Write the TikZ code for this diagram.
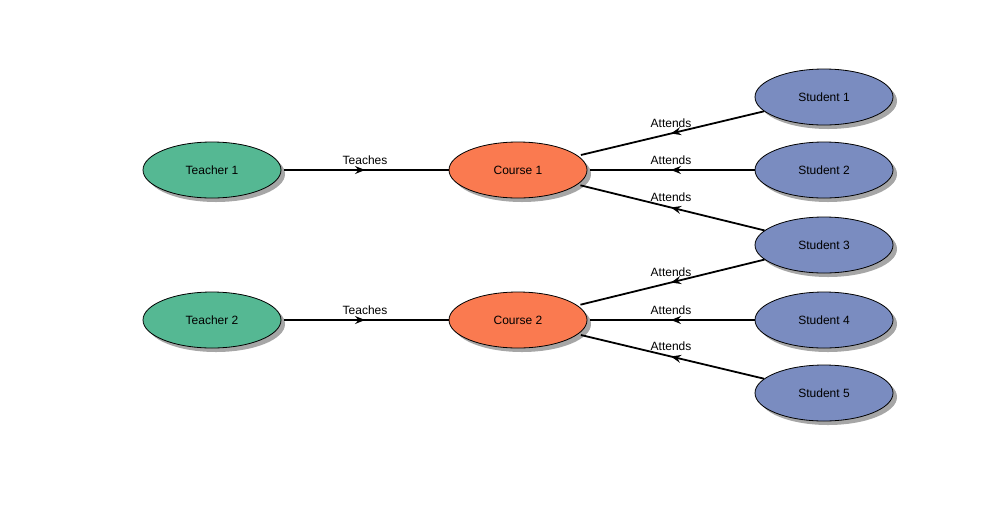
\documentclass[tikz,border=0pt]{standalone}
\usepackage{fontspec}
\setmainfont{Liberation Sans}
\usetikzlibrary{shapes.geometric,shadows,decorations.markings,arrows.meta}
\definecolor{tgreen}{HTML}{55B893}
\definecolor{corange}{HTML}{FA7A50}
\definecolor{sblue}{HTML}{7A8CC0}
\begin{document}
\begin{tikzpicture}[x=1pt,y=-1pt,
  ent/.style={ellipse, draw=black, line width=0.8pt, minimum width=138pt, minimum height=56pt, inner sep=0pt,
    font=\fontsize{12}{14}\selectfont,
    drop shadow={shadow xshift=4pt, shadow yshift=-4pt, fill=black!35, opacity=1}},
  teacher/.style={ent, fill=tgreen},
  course/.style={ent, fill=corange},
  student/.style={ent, fill=sblue},
  rel/.style={line width=1.8pt, postaction={decorate},
    decoration={markings, mark=at position 0.5 with {\arrow{Stealth[length=10pt,width=8pt,inset=3.5pt]}}}},
  lbl/.style={midway, above, inner sep=4.5pt, font=\fontsize{12}{14}\selectfont}
]
\useasboundingbox (0,0) rectangle (1008,504);
\node[teacher] (t1) at (212,170) {Teacher 1};
\node[teacher] (t2) at (212,320) {Teacher 2};
\node[course] (c1) at (518,170) {Course 1};
\node[course] (c2) at (518,320) {Course 2};
\node[student] (s1) at (824,97) {Student 1};
\node[student] (s2) at (824,170) {Student 2};
\node[student] (s3) at (824,245) {Student 3};
\node[student] (s4) at (824,320) {Student 4};
\node[student] (s5) at (824,393) {Student 5};
\draw[rel, shorten <=3pt] (t1) -- node[lbl] {Teaches} (c1);
\draw[rel, shorten <=3pt] (t2) -- node[lbl] {Teaches} (c2);
\draw[rel, shorten >=3pt] (s1) -- node[lbl] {Attends} (c1);
\draw[rel, shorten >=3pt] (s2) -- node[lbl] {Attends} (c1);
\draw[rel, shorten >=3pt] (s3) -- node[lbl] {Attends} (c1);
\draw[rel, shorten >=3pt] (s3) -- node[lbl] {Attends} (c2);
\draw[rel, shorten >=3pt] (s4) -- node[lbl] {Attends} (c2);
\draw[rel, shorten >=3pt] (s5) -- node[lbl] {Attends} (c2);
\end{tikzpicture}
\end{document}
